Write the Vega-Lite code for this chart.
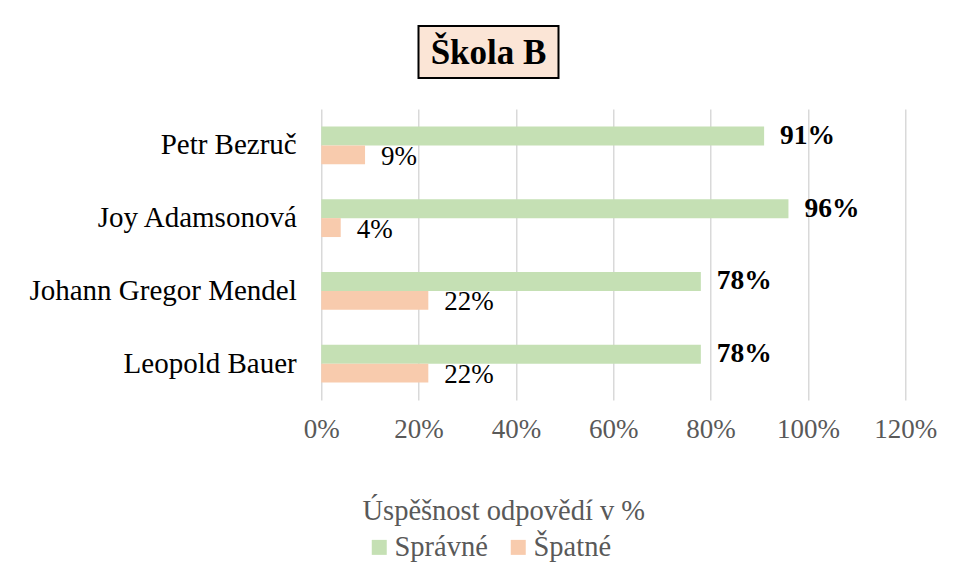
{
  "$schema": "https://vega.github.io/schema/vega-lite/v6.json",
  "background": "white",
  "padding": {"left": 28, "top": 25, "right": 0, "bottom": 0},
  "config": {
    "view": {"stroke": null},
    "font": "Liberation Serif"
  },
  "datasets": {
    "results": [
      {"name": "Petr Bezruč", "series": "Správné", "value": 0.91},
      {"name": "Petr Bezruč", "series": "Špatné", "value": 0.09},
      {"name": "Joy Adamsonová", "series": "Správné", "value": 0.96},
      {"name": "Joy Adamsonová", "series": "Špatné", "value": 0.04},
      {"name": "Johann Gregor Mendel", "series": "Správné", "value": 0.78},
      {"name": "Johann Gregor Mendel", "series": "Špatné", "value": 0.22},
      {"name": "Leopold Bauer", "series": "Správné", "value": 0.78},
      {"name": "Leopold Bauer", "series": "Špatné", "value": 0.22}
    ],
    "titleRow": [{"label": "Škola B"}]
  },
  "vconcat": [
    {
      "hconcat": [
        {
          "width": 140,
          "height": 52,
          "data": {"name": "titleRow"},
          "layer": [
            {
              "mark": {"type": "rect", "fill": "#FBE5D6", "stroke": "#000000", "strokeWidth": 2},
              "encoding": {}
            },
            {
              "mark": {"type": "text", "font": "Liberation Serif", "fontWeight": "bold", "fontSize": 35, "color": "#000000", "baseline": "middle", "align": "center", "dy": 1},
              "encoding": {"text": {"field": "label"}}
            }
          ]
        },
        {
          "width": 260,
          "height": 52,
          "data": {"name": "titleRow"},
          "mark": {"type": "rect", "opacity": 0},
          "encoding": {}
        }
      ],
      "spacing": 20
    },
    {
      "width": 584,
      "height": 291,
      "data": {"name": "results"},
      "encoding": {
        "y": {
          "field": "name",
          "type": "nominal",
          "sort": ["Petr Bezruč", "Joy Adamsonová", "Johann Gregor Mendel", "Leopold Bauer"],
          "scale": {"paddingInner": 0.48, "paddingOuter": 0.24},
          "axis": {
            "title": null,
            "domain": false,
            "ticks": false,
            "grid": false,
            "labelFont": "Liberation Serif",
            "labelFontSize": 29,
            "labelColor": "#000000",
            "labelPadding": 25,
            "labelLimit": 400
          }
        },
        "yOffset": {
          "field": "series",
          "type": "nominal",
          "sort": ["Správné", "Špatné"],
          "scale": {"paddingInner": 0, "paddingOuter": 0}
        },
        "x": {
          "field": "value",
          "type": "quantitative",
          "scale": {"domain": [0, 1.2], "nice": false},
          "axis": {
            "values": [0, 0.2, 0.4, 0.6, 0.8, 1.0, 1.2],
            "format": ".0%",
            "domain": false,
            "ticks": false,
            "grid": true,
            "gridColor": "#D9D9D9",
            "gridWidth": 1.5,
            "labelFont": "Liberation Serif",
            "labelFontSize": 27,
            "labelColor": "#595959",
            "labelPadding": 16,
            "labelFlush": false,
            "labelOverlap": false,
            "title": "Úspěšnost odpovědí v %",
            "titleFont": "Liberation Serif",
            "titleFontSize": 28.5,
            "titleFontWeight": "normal",
            "titleColor": "#595959",
            "titleX": 182,
            "titleY": 119,
            "titleAlign": "center",
            "titleBaseline": "alphabetic",
            "titleAnchor": null
          }
        }
      },
      "layer": [
        {
          "mark": {"type": "bar"},
          "encoding": {
            "color": {
              "field": "series",
              "type": "nominal",
              "sort": ["Správné", "Špatné"],
              "scale": {"domain": ["Správné", "Špatné"], "range": ["#C5E0B4", "#F8CBAD"]},
              "legend": {
                "title": null,
                "orient": "none",
                "direction": "horizontal",
                "legendX": 44,
                "legendY": 507,
                "padding": 0,
                "symbolType": "square",
                "symbolSize": 225,
                "symbolStrokeWidth": 0,
                "labelFont": "Liberation Serif",
                "labelFontSize": 28.5,
                "labelColor": "#595959",
                "labelOffset": 1,
                "columnPadding": 16
              }
            }
          }
        },
        {
          "transform": [{"filter": "datum.series === 'Správné'"}],
          "mark": {"type": "text", "align": "left", "baseline": "middle", "dx": 16, "dy": 0, "font": "Liberation Serif", "fontWeight": "bold", "fontSize": 27.5, "color": "#000000"},
          "encoding": {"text": {"field": "value", "type": "quantitative", "format": ".0%"}}
        },
        {
          "transform": [{"filter": "datum.series === 'Špatné'"}],
          "mark": {"type": "text", "align": "left", "baseline": "middle", "dx": 16, "dy": 2, "font": "Liberation Serif", "fontSize": 27, "color": "#000000"},
          "encoding": {"text": {"field": "value", "type": "quantitative", "format": ".0%"}}
        }
      ]
    }
  ],
  "spacing": 30,
  "center": true
}
